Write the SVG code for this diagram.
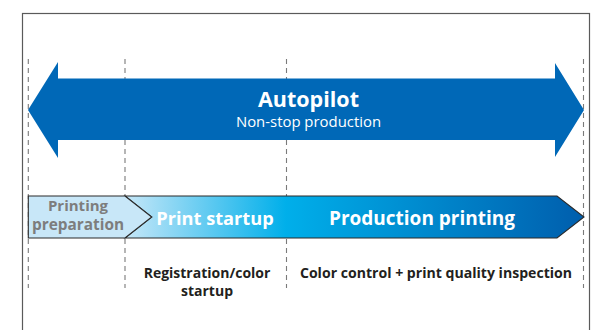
<svg xmlns="http://www.w3.org/2000/svg" width="598" height="330" viewBox="0 0 598 330">
  <style>
    .guide { stroke: #7a7a7a; stroke-width: 1.1; stroke-dasharray: 5 4; fill: none; }
    .t { font-family: "Open Sans", "Noto Sans", "Liberation Sans", sans-serif; text-anchor: middle; }
    .b { font-weight: bold; }
    .w { fill: #ffffff; }
    .g { fill: #7d7d7d; }
    .k { fill: #231f20; }
  </style>
  <defs>
    <linearGradient id="phaseGrad" gradientUnits="userSpaceOnUse" x1="125" y1="0" x2="584" y2="0">
      <stop offset="0" stop-color="#c6e7f8"/>
      <stop offset="0.35" stop-color="#00afea"/>
      <stop offset="1" stop-color="#005ead"/>
    </linearGradient>
  </defs>
  <rect x="0" y="0" width="598" height="330" fill="#ffffff"/>
  <rect id="frame" x="22.5" y="13.5" width="567" height="330" fill="none" stroke="#5a5a5a" stroke-width="1.2"/>

  <g id="connectors">
    <line class="guide" x1="28.3" y1="59" x2="28.3" y2="288"/>
    <line class="guide" x1="125" y1="59" x2="125" y2="288"/>
    <line class="guide" x1="286.5" y1="59" x2="286.5" y2="288"/>
    <line class="guide" x1="583.5" y1="59" x2="583.5" y2="288"/>
  </g>

  <g id="autopilot">
    <polygon points="28,110 58,62 58,78.5 555,78.5 555,63 584,110 555,157 555,140 58,140 58,158" fill="#0068b7"/>
    <text class="t b w" x="308.5" y="107" font-size="21.5">Autopilot</text>
    <text class="t w" x="308.5" y="127" font-size="14.9">Non-stop production</text>
  </g>

  <g id="phase-bar">
    <polygon points="125,196 557,196 584,217 557,238 125,238 151.7,217" fill="url(#phaseGrad)" stroke="#2b2b2b" stroke-width="1.1" stroke-linejoin="miter"/>
  </g>

  <g id="printing-preparation">
    <polygon points="28.3,196 125,196 151.7,217 125,238 28.3,238" fill="#c8e7f8" stroke="#2b2b2b" stroke-width="1.1"/>
    <text class="t b g" x="78" y="210.5" font-size="15">Printing</text>
    <text class="t b g" x="78" y="230" font-size="15.4">preparation</text>
  </g>

  <g id="print-startup">
    <text class="t b w" x="215" y="224.5" font-size="18.2">Print startup</text>
  </g>

  <g id="production-printing">
    <text class="t b w" x="422" y="224.5" font-size="19">Production printing</text>
  </g>

  <g id="registration-label">
    <text class="t b k" x="207" y="277.5" font-size="14">Registration/color</text>
    <text class="t b k" x="207" y="296" font-size="14">startup</text>
  </g>

  <g id="color-control-label">
    <text class="t b k" x="436" y="277.5" font-size="14.1">Color control + print quality inspection</text>
  </g>
</svg>
